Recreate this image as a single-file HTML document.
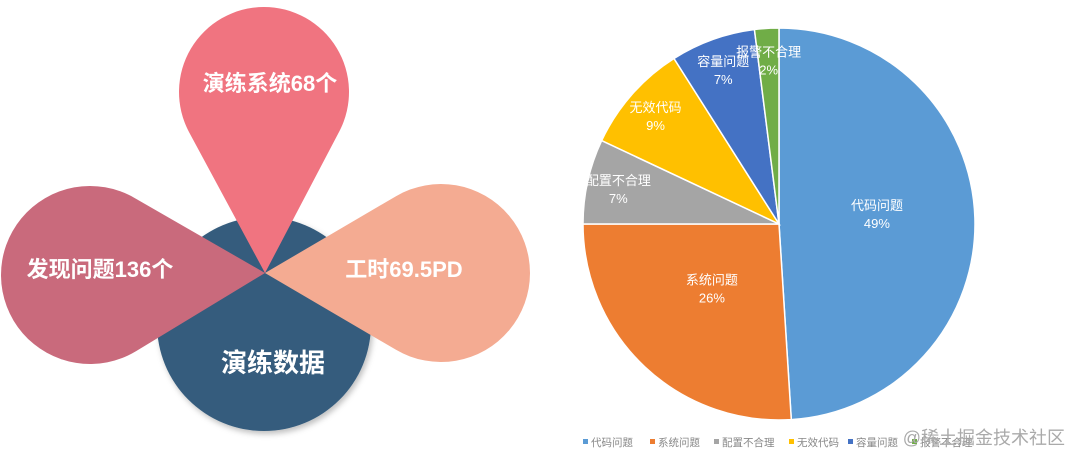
<!DOCTYPE html>
<html><head><meta charset="utf-8"><style>
html,body{margin:0;padding:0;background:#fff;width:1080px;height:463px;overflow:hidden}
svg{display:block}
text{font-family:"Liberation Sans","Noto Sans CJK SC",sans-serif}
</style></head><body>
<svg id="s" width="1080" height="463" viewBox="0 0 1080 463">
<defs><filter id="sh" x="-20%" y="-20%" width="140%" height="140%"><feDropShadow dx="2" dy="3" stdDeviation="3" flood-color="#000" flood-opacity="0.25"/></filter></defs>
<circle cx="264" cy="324" r="107" fill="#355c7d" filter="url(#sh)"/>
<g id="petals"></g>
<text x="273" y="372" font-size="26" font-weight="bold" fill="#fff" text-anchor="middle">演练数据</text>
<text x="270" y="91" font-size="22" font-weight="bold" fill="#fff" text-anchor="middle">演练系统68个</text>
<text x="100" y="277" font-size="22" font-weight="bold" fill="#fff" text-anchor="middle">发现问题136个</text>
<text x="404" y="277" font-size="22" font-weight="bold" fill="#fff" text-anchor="middle">工时69.5PD</text>
<g id="pie"></g>
<g id="legend"></g>
<text x="1065" y="444" font-size="18" fill="#aaa" text-anchor="end">@稀土掘金技术社区</text>
</svg>
<script>
const categories=["代码问题","系统问题","配置不合理","无效代码","容量问题","报警不合理"];
const values=[49,26,7,9,7,2];
const colors=["#5b9bd5","#ed7d31","#a5a5a5","#ffc000","#4472c4","#70ad47"];
const NS="http://www.w3.org/2000/svg";
function mk(t,a,p){const e=document.createElementNS(NS,t);for(const k in a)e.setAttribute(k,a[k]);p.appendChild(e);return e;}
const P=document.getElementById('petals');
const tip=[265,273];
const petalDefs=[[90,275,89,"#c96a7c","left-petal"],[441,273,89,"#f4ab92","right-petal"],[264,92,85,"#f07480","top-petal"]];
petalDefs.forEach(d=>{
  const [cx,cy,r,col,nm]=d;
  const dx=cx-tip[0],dy=cy-tip[1],D=Math.hypot(dx,dy);
  const base=Math.atan2(dy,dx),off=Math.acos(r/D);
  const a1=base+Math.PI+off,a2=base+Math.PI-off;
  const p1=[cx+r*Math.cos(a1),cy+r*Math.sin(a1)],p2=[cx+r*Math.cos(a2),cy+r*Math.sin(a2)];
  const path=`M${tip[0]},${tip[1]} L${p1[0]},${p1[1]} A${r},${r} 0 1 1 ${p2[0]},${p2[1]} Z`;
  const e=mk('path',{d:path,fill:col},P);
  
  
});
const G=document.getElementById('pie');
const cx=779,cy=224,R=196;
const total=values.reduce((a,b)=>a+b,0);
let acc=0;
values.forEach((v,i)=>{
  const a0=acc/total*2*Math.PI;acc+=v;const a1=acc/total*2*Math.PI;
  const x0=cx+R*Math.sin(a0),y0=cy-R*Math.cos(a0),x1=cx+R*Math.sin(a1),y1=cy-R*Math.cos(a1);
  const large=(a1-a0)>Math.PI?1:0;
  const e=mk('path',{d:`M${cx},${cy} L${x0},${y0} A${R},${R} 0 ${large} 1 ${x1},${y1} Z`,fill:colors[i],stroke:"#fff","stroke-width":1.5},G);
  
  
  const am=(a0+a1)/2,big=v/total>0.15,f=big?0.5:0.84;
  const lx=cx+R*f*Math.sin(am),ly=cy-R*f*Math.cos(am)+(big?-8:0);
  const t1=mk('text',{x:lx,y:ly-3,"font-size":13,fill:"#fff","text-anchor":"middle"},G);t1.textContent=categories[i];
  
  
  const t2=mk('text',{x:lx,y:ly+15,"font-size":13,fill:"#fff","text-anchor":"middle"},G);t2.textContent=Math.round(v/total*100)+"%";
  
  
});
const L=document.getElementById('legend');
const lxs=[583,650,714,789,848,912];
categories.forEach((c,i)=>{
  const g=mk('g',{},L);
  
  
  mk('rect',{x:lxs[i],y:439,width:5,height:5,fill:colors[i]},g);
  const t=mk('text',{x:lxs[i]+8,y:446,"font-size":10.5,fill:"#888"},g);t.textContent=c;
});
</script>
</body></html>
